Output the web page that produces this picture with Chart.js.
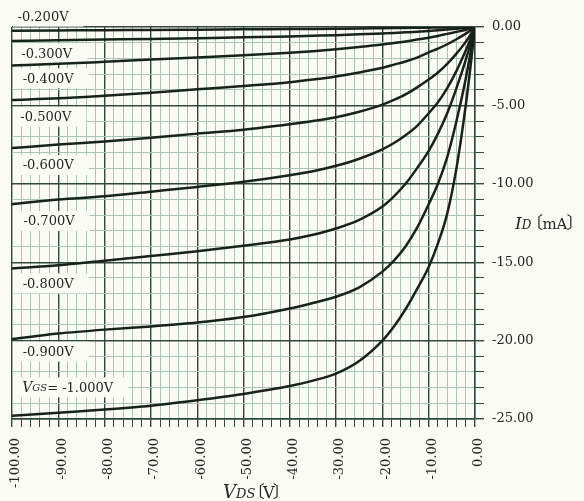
<!DOCTYPE html>
<html>
<head>
<meta charset="utf-8">
<script src="https://cdn.jsdelivr.net/npm/chart.js@4.4.1/dist/chart.umd.min.js"></script>
<style>
  html, body { margin: 0; padding: 0; background: #fbfbf6; }
  #wrap { width: 584px; height: 501px; }
</style>
</head>
<body>
<div id="wrap"><canvas id="myChart" width="584" height="501"></canvas></div>
<script>
// 1 DATA
const vds = [-100, -90, -80, -70, -60, -50, -40, -35, -30, -25, -20, -17.5, -15, -12.5, -10, -8, -6, -4, -2, -1, 0];

const id020 = [-0.24, -0.22, -0.20, -0.19, -0.17, -0.15, -0.13, -0.12, -0.11, -0.10, -0.08, -0.07, -0.06, -0.05, -0.04, -0.035, -0.025, -0.017, -0.01, -0.005, 0];
const id030 = [-0.89, -0.84, -0.80, -0.76, -0.71, -0.66, -0.60, -0.56, -0.52, -0.47, -0.41, -0.38, -0.34, -0.30, -0.25, -0.21, -0.16, -0.11, -0.06, -0.03, 0];
const id040 = [-2.45, -2.35, -2.22, -2.08, -1.94, -1.80, -1.64, -1.54, -1.42, -1.28, -1.12, -1.02, -0.92, -0.80, -0.68, -0.57, -0.44, -0.31, -0.17, -0.09, 0];
const id050 = [-4.66, -4.55, -4.38, -4.19, -3.97, -3.76, -3.52, -3.35, -3.15, -2.90, -2.60, -2.40, -2.20, -1.95, -1.62, -1.38, -1.10, -0.78, -0.42, -0.22, 0];
const id060 = [-7.72, -7.50, -7.30, -7.06, -6.80, -6.55, -6.20, -6.00, -5.75, -5.40, -4.95, -4.65, -4.30, -3.85, -3.35, -2.90, -2.35, -1.70, -0.95, -0.50, 0];
const id070 = [-11.3, -11.0, -10.8, -10.5, -10.2, -9.87, -9.45, -9.20, -8.85, -8.40, -7.80, -7.40, -6.90, -6.30, -5.50, -4.80, -3.90, -2.80, -1.50, -0.80, 0];
const id080 = [-15.4, -15.2, -14.9, -14.6, -14.3, -13.95, -13.55, -13.25, -12.85, -12.3, -11.45, -10.8, -10.0, -9.0, -7.9, -6.8, -5.5, -3.9, -2.1, -1.1, 0];
const id090 = [-19.9, -19.55, -19.3, -19.1, -18.85, -18.5, -17.95, -17.6, -17.2, -16.6, -15.6, -14.9, -14.0, -12.8, -11.3, -10.0, -8.3, -6.0, -3.3, -1.7, 0];
const id100 = [-24.8, -24.6, -24.4, -24.15, -23.8, -23.4, -22.9, -22.55, -22.1, -21.3, -20.0, -19.1, -18.0, -16.7, -15.3, -13.8, -11.9, -9.0, -5.0, -2.6, 0];

// curve labels (text anchor in data units)
const vgsLabels = ['-0.200V', '-0.300V', '-0.400V', '-0.500V', '-0.600V', '-0.700V', '-0.800V', '-0.900V', '= -1.000V'];
const labelV = [-98.8, -98.0, -97.7, -98.2, -97.7, -97.5, -97.7, -97.7, -97.8];
const labelI = [0.66, -1.68, -3.27, -5.72, -8.8, -12.37, -16.35, -20.7, -22.98];

// tick labels
const vdsMajor = [-100, -90, -80, -70, -60, -50, -40, -30, -20, -10, 0];
const idMajor = [0, -5, -10, -15, -20, -25];
const vdsStep = 2;   // minor grid every 2 V
const idStep = 1;    // minor grid every 1 mA

// 2 STYLE
const FONT = '"DejaVu Serif", serif';
const CJK = '"Noto Sans CJK JP", "DejaVu Serif", serif';
const BG = '#fbfbf6';
const DARK = '#2f473d';
const LIGHT = '#a9c4b4';
const INK = '#17221c';
const TEXT = '#262626';

const curves = [id020, id030, id040, id050, id060, id070, id080, id090, id100];
const datasets = curves.map(arr => ({
    data: vds.map((v, i) => ({x: v, y: arr[i]})),
    borderColor: INK,
    borderWidth: 2.5,
    pointRadius: 0,
    fill: false,
    cubicInterpolationMode: 'monotone'
}));

const isMajor = (v, list) => list.some(m => Math.abs(m - v) < 1e-6);

function gridTicks(min, max, step){
    const out = [];
    for (let v = min; v <= max + 1e-9; v += step) out.push({value: Math.round(v * 1000) / 1000});
    return out;
}

// draws a row of text runs with different fonts; pre/post trim the wide CJK brackets
function drawRuns(ctx, x, y, runs){
    runs.forEach(r => {
        ctx.font = r.font;
        const w = ctx.measureText(r.t).width;
        const pre = (r.pre || 0) * w, post = (r.post || 0) * w;
        ctx.fillText(r.t, x - pre, y);
        x += w - pre - post;
    });
    return x;
}

// 3 PLUGINS
const paper = {
    id: 'paper',
    beforeDraw(chart){
        const c = chart.ctx;
        c.save();
        c.fillStyle = BG;
        c.fillRect(0, 0, chart.width, chart.height);
        c.restore();
    },
    // labels sit on white boxes that hide the grid but not the curves
    beforeDatasetsDraw(chart){
        const c = chart.ctx;
        const xs = chart.scales.x, ys = chart.scales.y;
        c.save();
        c.textBaseline = 'middle';
        vgsLabels.forEach((t, i) => {
            const px = xs.getPixelForValue(labelV[i]);
            const py = ys.getPixelForValue(labelI[i]);
            let runs = [{t: t, font: '13px ' + FONT}];
            if (i === vgsLabels.length - 1) {
                runs = [
                    {t: 'V', font: 'italic 14px ' + FONT},
                    {t: 'GS', font: 'italic 10px ' + FONT},
                    {t: t, font: '13px ' + FONT}
                ];
            }
            let w = 0;
            runs.forEach(r => { c.font = r.font; w += c.measureText(r.t).width; });
            c.fillStyle = BG;
            c.fillRect(chart.chartArea.left + 1, py - 10, px - chart.chartArea.left + w + 14, 20);
            c.fillStyle = TEXT;
            drawRuns(c, px, py + 1, runs);
        });
        c.restore();
    },
    afterDraw(chart){
        const c = chart.ctx;
        c.save();
        c.fillStyle = TEXT;
        c.textBaseline = 'alphabetic';
        drawRuns(c, 515, 229, [
            {t: 'I', font: 'italic 17px ' + FONT},
            {t: 'D', font: 'italic 12px ' + FONT},
            {t: '〔', font: '17px ' + CJK, pre: 0.3, post: 0.05},
            {t: 'mA', font: '15px ' + FONT},
            {t: '〕', font: '17px ' + CJK, pre: 0.05, post: 0.3}
        ]);
        drawRuns(c, 223, 498, [
            {t: 'V', font: 'italic 18px ' + FONT},
            {t: 'DS', font: 'italic 13px ' + FONT},
            {t: '〔', font: '17px ' + CJK, pre: 0.45, post: 0.1},
            {t: 'V', font: '16px ' + FONT},
            {t: '〕', font: '17px ' + CJK, pre: 0.1, post: 0.45}
        ]);
        c.restore();
    }
};

// 4 CHART
const ctx = document.querySelector('#myChart').getContext('2d');
const myChart = new Chart(ctx, {
    type: 'line',
    data: { datasets: datasets },
    options: {
        responsive: false,
        animation: false,
        layout: { padding: { left: 12, top: 27, right: 0, bottom: 0 } },
        plugins: { legend: { display: false }, tooltip: { enabled: false } },
        scales: {
            x: {
                type: 'linear',
                min: -100,
                max: 0,
                afterFit: s => { s.height = 82; },
                afterBuildTicks: s => { s.ticks = gridTicks(-100, 0, vdsStep); },
                ticks: {
                    autoSkip: false,
                    minRotation: 90,
                    maxRotation: 90,
                    padding: 11,
                    labelOffset: 4,
                    color: TEXT,
                    font: { family: FONT, size: 13 },
                    callback: v => isMajor(v, vdsMajor) ? v.toFixed(2) : ''
                },
                grid: {
                    color: c => isMajor(c.tick.value, vdsMajor) ? DARK : LIGHT,
                    lineWidth: c => isMajor(c.tick.value, vdsMajor) ? 1.4 : 1,
                    tickColor: DARK,
                    tickLength: 8
                },
                border: { color: DARK, width: 1.4 }
            },
            y: {
                type: 'linear',
                position: 'right',
                min: -25,
                max: 0,
                afterFit: s => { s.width = 109; },
                afterBuildTicks: s => { s.ticks = gridTicks(-25, 0, idStep); },
                ticks: {
                    autoSkip: false,
                    padding: 8,
                    color: TEXT,
                    font: { family: FONT, size: 13 },
                    callback: v => isMajor(v, idMajor) ? v.toFixed(2) : ''
                },
                grid: {
                    color: c => isMajor(c.tick.value, idMajor) ? DARK : LIGHT,
                    lineWidth: c => isMajor(c.tick.value, idMajor) ? 1.4 : 1,
                    tickColor: DARK,
                    tickLength: 9
                },
                border: { color: DARK, width: 1.4 }
            }
        }
    },
    plugins: [paper]
});
</script>
</body>
</html>
